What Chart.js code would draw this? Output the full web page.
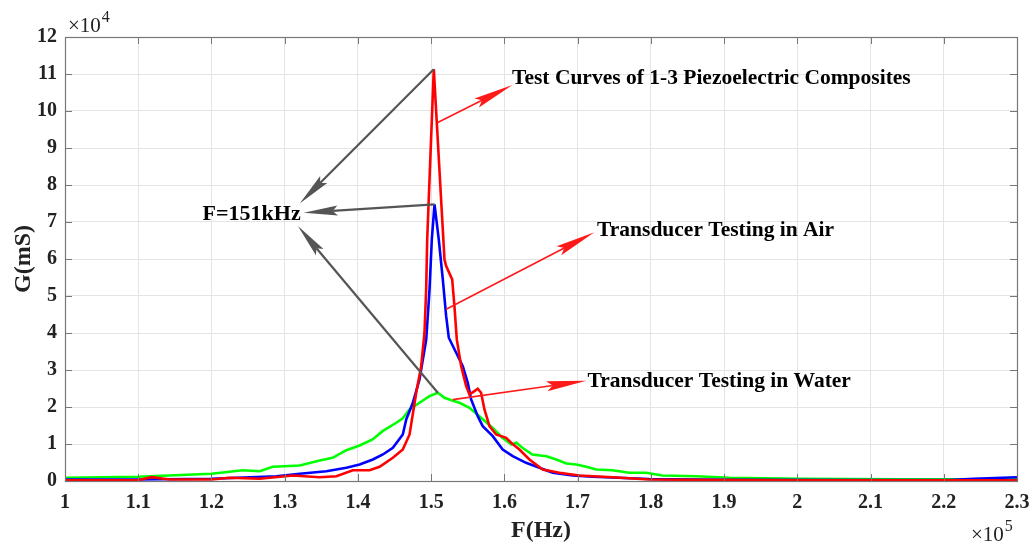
<!DOCTYPE html>
<html lang="en">
<head>
  <meta charset="UTF-8">
  <title>G(mS) vs F(Hz)</title>
  <script src="https://cdn.jsdelivr.net/npm/chart.js"></script>
  <style>
    html, body { margin: 0; padding: 0; background: #fff; }
    #wrap { width: 1032px; height: 548px; }
  </style>
</head>
<body>
<div id="wrap"><canvas id="myChart"></canvas></div>

<script>
  // conductance curves: frequency in Hz, G in mS
  const compFreq = [100000, 109950, 111820, 114320, 120010, 122500, 126590, 131130, 134770, 137050,
    139310, 141590, 142960, 144770, 146130, 147050, 147960, 148640, 149090, 149320, 149460, 150360,
    151820, 152050, 152870, 153180, 153500, 154100, 154780, 155230, 155910, 156360, 156820, 157280,
    157960, 158870, 160240, 160920, 162050, 163420, 165230, 167500, 170230, 174730, 179780, 190690,
    200230, 213870, 230000];
  const compG = [220, 220, 1030, 400, 400, 870, 600, 1490, 1030, 1300,
    2920, 2920, 3840, 6270, 8520, 12570, 23850, 31040, 40070, 51780, 65300, 111300,
    59870, 58080, 54490, 47270, 38260, 31040, 25630, 23390, 24280, 24930, 23850, 19330,
    14820, 12570, 11680, 10330, 8520, 5820, 3110, 2220, 1490, 1030, 400, 270,
    190, 190, 190];

  const airFreq = [100000, 109950, 120010, 128870, 132050, 135690, 138420, 140230, 142040, 143410,
    144770, 146130, 146600, 147500, 148410, 149330, 149780, 150090, 150460, 151040, 151590, 152050,
    152410, 153420, 154320, 155000, 155460, 156360, 157040, 158410, 159770, 161140, 162960, 164780,
    166590, 169320, 172040, 179780, 190690, 211140, 220690, 224100, 230000];
  const airG = [410, 410, 590, 1300, 1950, 2650, 3570, 4460, 5810, 7170,
    8980, 12570, 16630, 21150, 27450, 38260, 51780, 65300, 74770, 65300, 54490, 44560,
    38720, 34670, 31040, 26550, 22040, 17520, 14820, 12110, 8520, 6710, 4920, 3570,
    2220, 1490, 1140, 540, 320, 270, 270, 590, 1030];

  const waterFreq = [100000, 109950, 120010, 124270, 126590, 128360, 132050, 134770, 136550, 138420,
    140230, 142000, 143370, 145230, 146090, 147050, 148410, 149780, 150910, 151820, 152780, 153870,
    155230, 156590, 158370, 159730, 160960, 161640, 162460, 163820, 165730, 167090, 168460, 169820,
    171190, 172550, 174730, 177050, 179370, 181550, 186190, 190690, 200230, 213870, 230000];
  const waterG = [870, 1140, 1950, 2920, 2650, 3840, 4190, 5540, 6270, 8330,
    9600, 11220, 13470, 15740, 16900, 19330, 21150, 22930, 23850, 22500, 21850, 21150,
    19790, 17520, 14390, 11680, 9870, 10330, 8980, 7170, 6710, 5810, 4730, 4460,
    3840, 3110, 2920, 2220, 2220, 1490, 1300, 870, 590, 460, 460];

  // axis ranges
  const fMin = 100000, fMax = 230000, fStep = 10000;
  const gMin = 0, gMax = 120000, gStep = 10000;

  // resonance label and the points its arrows point at (Hz, mS)
  const peakText = 'F=151kHz';
  const peakTextAt = [132180, 72100];
  const peakTips = [[132050, 75000], [132600, 72500], [131800, 68900]];

  // callouts: text, start on the curve, arrow tip, text position (Hz, mS)
  const noteText = ['Test Curves of 1-3 Piezoelectric Composites', 'Transducer Testing in Air', 'Transducer Testing in Water'];
  const noteFrom = [[150900, 96900], [152050, 46400], [152950, 22000]];
  const noteTip = [[161100, 107000], [172300, 67200], [171200, 27100]];
  const noteAt = [[161050, 108900], [172650, 67800], [171350, 26800]];

  const pts = (xs, ys) => xs.map((v, i) => ({x: v, y: ys[i]}));
  const serif = '"Liberation Serif", "Times New Roman", serif';

  function arrow(ctx, x0, y0, x1, y1, color, lw, len, half) {
    const a = Math.atan2(y1 - y0, x1 - x0);
    const c = Math.cos(a), s = Math.sin(a);
    const bx = x1 - len * c, by = y1 - len * s;
    const nx = x1 - len * 0.85 * c, ny = y1 - len * 0.85 * s;
    ctx.strokeStyle = color;
    ctx.fillStyle = color;
    ctx.lineWidth = lw;
    ctx.beginPath();
    ctx.moveTo(x0, y0);
    ctx.lineTo(nx, ny);
    ctx.stroke();
    ctx.beginPath();
    ctx.moveTo(x1, y1);
    ctx.lineTo(bx - half * s, by + half * c);
    ctx.lineTo(nx, ny);
    ctx.lineTo(bx + half * s, by - half * c);
    ctx.closePath();
    ctx.fill();
  }

  // box, inward ticks, exponent labels and callouts
  const decor = {
    id: 'decor',
    afterDatasetsDraw(chart) {
      const {ctx, chartArea: a, scales: {x, y}} = chart;
      ctx.save();
      ctx.strokeStyle = '#777';
      ctx.lineWidth = 1;
      ctx.beginPath();
      x.ticks.forEach(t => {
        const px = Math.round(x.getPixelForValue(t.value)) + 0.5;
        ctx.moveTo(px, a.bottom); ctx.lineTo(px, a.bottom - 7);
        ctx.moveTo(px, a.top); ctx.lineTo(px, a.top + 7);
      });
      y.ticks.forEach(t => {
        const py = Math.round(y.getPixelForValue(t.value)) + 0.5;
        ctx.moveTo(a.left, py); ctx.lineTo(a.left + 7, py);
        ctx.moveTo(a.right, py); ctx.lineTo(a.right - 7, py);
      });
      ctx.stroke();
      ctx.lineWidth = 1.2;
      ctx.strokeRect(Math.round(a.left) + 0.5, Math.round(a.top) + 0.5,
        Math.round(a.right - a.left), Math.round(a.bottom - a.top));

      // ×10^n exponents
      ctx.fillStyle = '#222';
      ctx.textAlign = 'left';
      ctx.textBaseline = 'alphabetic';
      const power = (px, py, n) => {
        ctx.font = '21px ' + serif;
        ctx.fillText('×10', px, py);
        const w = ctx.measureText('×10').width;
        ctx.font = '16px ' + serif;
        ctx.fillText(n, px + w + 1, py - 10);
      };
      power(a.left + 3, a.top - 5, '4');
      power(a.right - 46, chart.height - 7, '5');

      // arrows from each peak to the resonance label
      const sets = [compG, airG, waterG].map((g, i) => {
        const k = g.indexOf(Math.max(...g));
        return [[compFreq, airFreq, waterFreq][i][k], g[k]];
      });
      sets.forEach((p, i) => {
        arrow(ctx, x.getPixelForValue(p[0]), y.getPixelForValue(p[1]),
          x.getPixelForValue(peakTips[i][0]), y.getPixelForValue(peakTips[i][1]),
          '#555', 2.2, 34, 5);
      });
      ctx.fillStyle = '#000';
      ctx.font = 'bold 22px ' + serif;
      ctx.textAlign = 'right';
      ctx.textBaseline = 'middle';
      ctx.fillText(peakText, x.getPixelForValue(peakTextAt[0]), y.getPixelForValue(peakTextAt[1]));

      // red callouts
      ctx.font = 'bold 21.5px ' + serif;
      noteText.forEach((txt, i) => {
        arrow(ctx, x.getPixelForValue(noteFrom[i][0]), y.getPixelForValue(noteFrom[i][1]),
          x.getPixelForValue(noteTip[i][0]), y.getPixelForValue(noteTip[i][1]),
          '#ff1a1a', 1.6, 40, 5);
        ctx.fillStyle = '#000';
        ctx.textAlign = 'left';
        ctx.fillText(txt, x.getPixelForValue(noteAt[i][0]), y.getPixelForValue(noteAt[i][1]));
      });
      ctx.restore();
    }
  };

  const ctx = document.getElementById('myChart');

  const chart = new Chart(ctx, {
    type: 'scatter',
    data: {
      datasets: [
        { label: 'Composite', data: pts(compFreq, compG), borderColor: '#ff0000' },
        { label: 'Air', data: pts(airFreq, airG), borderColor: '#0000ff' },
        { label: 'Water', data: pts(waterFreq, waterG), borderColor: '#00ff00' }
      ]
    },
    options: {
      responsive: true,
      maintainAspectRatio: false,
      animation: false,
      showLine: true,
      elements: {
        point: { radius: 0 },
        line: { borderWidth: 2.6, tension: 0 }
      },
      layout: { padding: { top: 37, right: 15, left: 0, bottom: 0 } },
      plugins: {
        legend: { display: false },
        tooltip: { enabled: false }
      },
      scales: {
        x: {
          type: 'linear',
          min: fMin,
          max: fMax,
          afterFit: s => { s.height = 67; s.paddingLeft = 0; s.paddingRight = 0; },
          ticks: {
            stepSize: fStep,
            padding: 10,
            color: '#222',
            font: { family: serif, size: 20, weight: 'bold' },
            maxRotation: 0,
            autoSkip: false,
            callback: v => String(Math.round(v / 1e4) / 10)
          },
          grid: { color: '#e4e4e4', drawTicks: false },
          border: { display: false },
          title: {
            display: true,
            text: 'F(Hz)',
            color: '#222',
            padding: { top: 0, bottom: 3 },
            font: { family: serif, size: 24, weight: 'bold' }
          }
        },
        y: {
          min: gMin,
          max: gMax,
          afterFit: s => { s.width = 65; s.paddingTop = 0; s.paddingBottom = 0; },
          ticks: {
            stepSize: gStep,
            padding: 8,
            color: '#222',
            font: { family: serif, size: 20, weight: 'bold' },
            callback: v => String(Math.round(v / 1e4))
          },
          grid: { color: '#e4e4e4', drawTicks: false },
          border: { display: false },
          title: {
            display: true,
            text: 'G(mS)',
            color: '#222',
            padding: { top: 9, bottom: 0 },
            font: { family: serif, size: 24, weight: 'bold' }
          }
        }
      }
    },
    plugins: [decor]
  });
</script>
</body>
</html>
